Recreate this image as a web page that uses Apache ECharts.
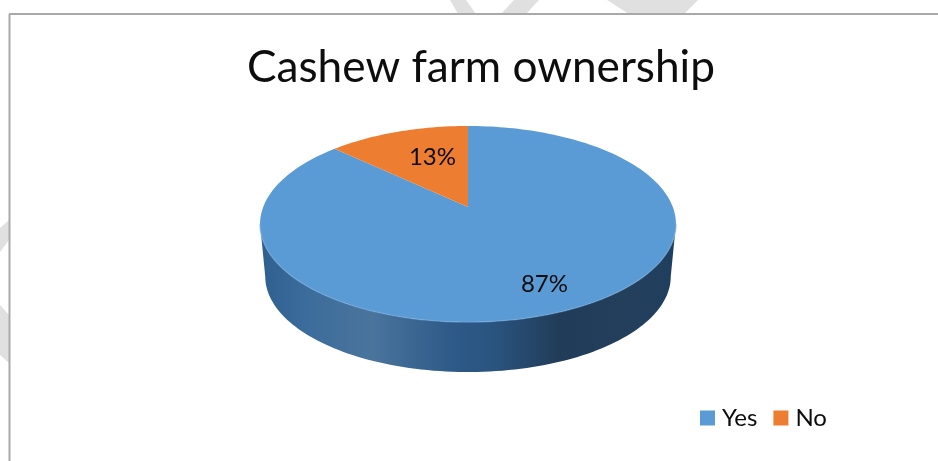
<!DOCTYPE html>
<html>
<head>
<meta charset="utf-8">
<style>html,body{margin:0;padding:0;background:#fff}#chart{width:938px;height:461px}</style>
<script src="https://cdn.jsdelivr.net/npm/echarts@6/dist/echarts.min.js"></script>
</head>
<body>
<div id="chart"></div>
<script>
// Survey result: does the respondent own a cashew farm?
const chartTitle = 'Cashew farm ownership';
const categories = ['Yes', 'No'];
const shares = [87, 13];
const sliceColors = ['#5b9bd5', '#ed7d31'];
const labelPlacement = [
  { radius: 0.78, dx: 4, dy: 0 },
  { radius: 0.6, dx: 9, dy: -2 }
];

// Tilted disc: a unit circle seen in perspective, with a thick rim below it.
const disc = { cx: 468, cy: 207, a: 204.8, b: 95.06, tilt: 0.1736, depth: 52.9, floorScale: 0.975 };

function project(deg, r, scale, drop) {
  const t = deg * Math.PI / 180;
  const u = Math.sin(t) * r;
  const v = Math.cos(t) * r;
  const w = 1 + disc.tilt * v;
  return [
    disc.cx + disc.a * u / w * scale,
    disc.cy - disc.b * v / w * scale + drop
  ];
}

function arcPoints(from, to, scale, drop) {
  const pts = [];
  const steps = Math.max(2, Math.ceil(Math.abs(to - from) / 1.5));
  for (let i = 0; i <= steps; i++) {
    pts.push(project(from + (to - from) * i / steps, 1, scale, drop));
  }
  return pts;
}

const wallFill = new echarts.graphic.LinearGradient(0, 0, 1, 0, [
  { offset: 0, color: '#2f5f8e' },
  { offset: 0.12, color: '#3d6d9c' },
  { offset: 0.27, color: '#4a749c' },
  { offset: 0.46, color: '#2e5a89' },
  { offset: 0.56, color: '#2a5480' },
  { offset: 0.72, color: '#213c58' },
  { offset: 0.88, color: '#243f5c' },
  { offset: 1, color: '#1f3f5e' }
]);

function renderSlice(params, api) {
  const start = api.value(0);
  const share = api.value(1);
  const end = start + share * 3.6;
  const index = params.seriesIndex;
  const children = [];

  // The rim shows only on the near side of the disc.
  const nearFrom = Math.max(start, 100);
  const nearTo = Math.min(end, 260);
  if (nearTo > nearFrom) {
    const upper = arcPoints(nearFrom, nearTo, 1, 0);
    const lower = arcPoints(nearTo, nearFrom, disc.floorScale, disc.depth);
    children.push({
      type: 'polygon',
      shape: { points: upper.concat(lower) },
      style: { fill: wallFill },
      silent: true
    });
  }

  children.push({
    type: 'polygon',
    shape: { points: [[disc.cx, disc.cy]].concat(arcPoints(start, end, 1, 0)) },
    style: { fill: sliceColors[index] },
    silent: true
  });

  // Soft highlight where the top face meets the rim.
  if (nearTo > nearFrom) {
    children.push({
      type: 'polyline',
      shape: { points: arcPoints(nearFrom, nearTo, 1, 0) },
      style: { fill: 'none', stroke: '#74a9dc', lineWidth: 1.5, opacity: 0.55 },
      silent: true
    });
  }

  const place = labelPlacement[index];
  const at = project((start + end) / 2, place.radius, 1, 0);
  children.push({
    type: 'text',
    z2: 10,
    silent: true,
    style: {
      x: at[0] + place.dx,
      y: at[1] + place.dy,
      text: share + '%',
      fill: '#0d0d0d',
      font: '24px Lato',
      align: 'center',
      verticalAlign: 'middle'
    }
  });
  return { type: 'group', children };
}

let running = 0;
const series = categories.map((name, i) => {
  const entry = {
    type: 'custom',
    name,
    coordinateSystem: 'none',
    silent: true,
    itemStyle: { color: sliceColors[i] },
    data: [[running, shares[i]]],
    renderItem: renderSlice
  };
  running += shares[i] * 3.6;
  return entry;
});

// Page furniture: the chart frame and the faint grey shapes behind it.
const frameColor = '#a9a9a9';
const backdropShapes = [
  [[450, 0], [466, 0], [476, 14], [458, 14]],
  [[514, 0], [539, 0], [526, 14], [501, 14]],
  [[607, 0], [698, 0], [684, 14], [629, 14]],
  [[0, 228], [9, 220], [9, 240], [0, 252]],
  [[0, 305], [9, 315], [9, 363], [0, 355]]
];
const furniture = backdropShapes.map(points => ({
  type: 'polygon', silent: true, z: -2,
  shape: { points },
  style: { fill: '#e0e0e0' }
})).concat([
  { type: 'line', silent: true, z: -1, shape: { x1: 9, y1: 14, x2: 938, y2: 14 }, style: { stroke: frameColor, lineWidth: 2 } },
  { type: 'line', silent: true, z: -1, shape: { x1: 9.5, y1: 14, x2: 9.5, y2: 461 }, style: { stroke: frameColor, lineWidth: 2 } }
]);

const chart = echarts.init(document.getElementById('chart'), null, { renderer: 'canvas' });
chart.setOption({
  animation: false,
  backgroundColor: '#ffffff',
  title: {
    text: chartTitle,
    left: 476,
    top: 41,
    textAlign: 'center',
    textStyle: { fontFamily: 'Lato', fontSize: 44.2, fontWeight: 'normal', color: '#0d0d0d' }
  },
  legend: {
    data: categories,
    left: 695,
    top: 401,
    itemWidth: 15,
    itemHeight: 15,
    itemGap: 16,
    icon: 'rect',
    selectedMode: false,
    textStyle: { fontFamily: 'Lato', fontSize: 24, color: '#0d0d0d', padding: [0, 0, 0, 2] }
  },
  graphic: furniture,
  series
});
</script>
</body>
</html>
